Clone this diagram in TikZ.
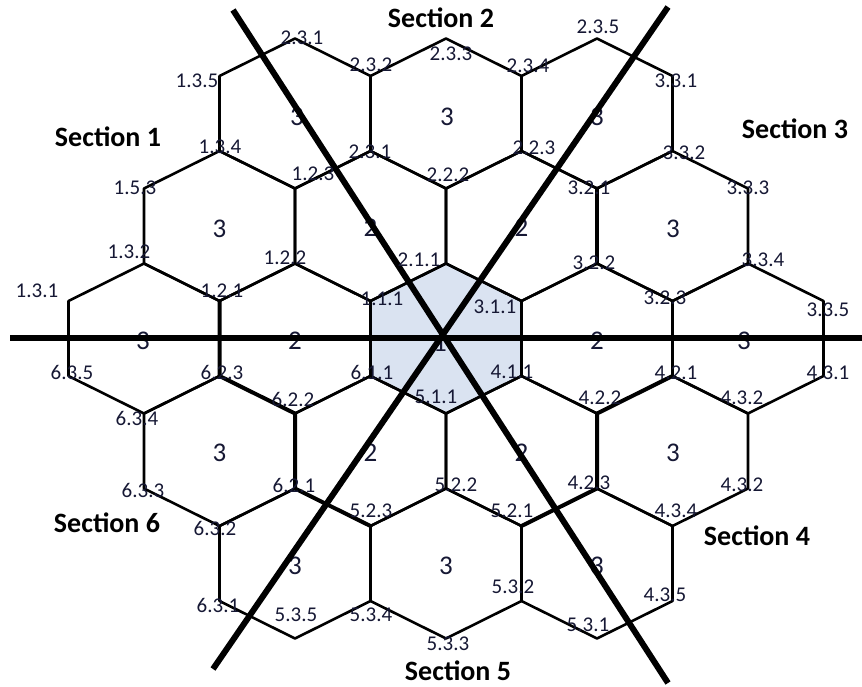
\documentclass[tikz,border=0pt]{standalone}
\usepackage{fontspec}
\setmainfont{Carlito}
\definecolor{labnavy}{RGB}{22,24,52}
\definecolor{centerfill}{RGB}{218,227,241}
\tikzset{
  hexline/.style={line width=2.6pt, line join=round, black},
  bordline/.style={line width=4pt, line cap=round, black},
  secline/.style={line width=6pt, black},
  vlab/.style={text=labnavy, inner sep=0pt, font=\fontsize{21}{23}\selectfont},
  hlab/.style={text=labnavy, inner sep=0pt, font=\fontsize{27}{29}\selectfont},
  seclab/.style={text=black, inner sep=0pt, font=\fontsize{28}{30}\selectfont\bfseries},
}
\newcommand{\hexpath}[2]{(#1,#2) ++(0,-75) -- ++(75.5,37.5) -- ++(0,75) -- ++(-75.5,37.5) -- ++(-75.5,-37.5) -- ++(0,-75) -- cycle}
\begin{document}
\begin{tikzpicture}[x=1pt,y=-1pt]
\useasboundingbox (0,0) rectangle (862,687);
% centre hexagon
\fill[centerfill] \hexpath{446}{338.5};
% hexagons
\foreach \cx/\cy in {446/338.5,
  597/338.5, 295/338.5, 370.5/226, 521.5/226, 370.5/451, 521.5/451,
  748/338.5, 144/338.5, 295/113.5, 446/113.5, 597/113.5,
  219.5/226, 672.5/226, 219.5/451, 672.5/451,
  295/563.5, 446/563.5, 597/563.5}
  {\draw[hexline] \hexpath{\cx}{\cy};}
% thicker boundary edges
\coordinate (b622) at (295,413.5);
\coordinate (b623) at (219.5,376);
\coordinate (b121) at (219.5,301);
\coordinate (b321) at (597,188.5);
\coordinate (b322) at (597,263.5);
\coordinate (b421) at (672.5,376);
\coordinate (b422) at (597,413.5);
\coordinate (b423) at (597,488.5);
\coordinate (b521) at (521.5,526);
\coordinate (b523) at (370.5,526);
\coordinate (b621) at (295,488.5);
\draw[bordline] (b121) -- (b623) -- (b622) -- (b621) -- (b523);
\draw[bordline] (b321) -- (b322);
\draw[bordline] (b421) -- (b422) -- (b423) -- (b521);
% hexagon numbers
\node[hlab] (h0) at (440,343) {1};
\foreach \x/\y [count=\i] in {370.5/228, 521.5/228, 597/341, 295/341, 370.5/453, 521.5/453}
  {\node[hlab] (hr\i) at (\x,\y) {2};}
\foreach \x/\y [count=\i] in {297/117, 447/117, 597/117, 219.5/229, 673/229, 744/341,
  143/341, 219.5/453, 673/453, 295/566, 446/566, 597/566}
  {\node[hlab] (hs\i) at (\x,\y) {3};}
% section lines
\coordinate (hl) at (10,338);
\coordinate (hr) at (862,338);
\coordinate (at) at (233,10);
\coordinate (ab) at (668,683);
\coordinate (bt) at (668,7);
\coordinate (bb) at (213,669);
\draw[secline] (hl) -- (hr);
\draw[secline] (at) -- (ab);
\draw[secline] (bt) -- (bb);
% vertex labels
\foreach \t/\x/\y [count=\i] in {
  1.3.5/197/81, 2.3.1/302/38, 2.3.2/371/65, 2.3.3/451/54, 2.3.4/528/66,
  2.3.5/598/27, 3.3.1/676/81, 1.3.4/220/147, 2.3.1/370/152, 2.2.3/534/148,
  3.3.2/684/153, 1.5.3/135/188, 1.2.3/313/174, 2.2.2/448/175, 3.2.1/589/188,
  3.3.3/748/188, 1.3.2/129/252, 1.2.2/285/258, 2.1.1/419/260, 3.2.2/594/263,
  3.3.4/763/260, 1.3.1/37/291, 1.2.1/222/291, 1.1.1/382/299, 3.1.1/495/307,
  3.2.3/665/298, 3.3.5/828/310, 6.3.5/72/372, 6.2.3/222/372, 6.1.1/372/372,
  4.1.1/512/372, 4.2.1/676/373, 4.3.1/828/373, 6.2.2/293/399, 5.1.1/436/397,
  4.2.2/600/398, 4.3.2/742/398, 6.3.4/137/418, 6.3.3/143/490, 6.2.1/294/485,
  5.2.2/456/485, 4.2.3/589/483, 4.3.2/742/485, 5.2.3/371/511, 5.2.1/512/511,
  4.3.4/676/511, 6.3.2/215/528, 5.3.2/513/587, 4.3.5/665/595, 6.3.1/218/605,
  5.3.5/296/615, 5.3.4/371/615, 5.3.1/588/625, 5.3.3/448/644}
  {\node[vlab] (v\i) at (\x,\y) {\t};}
% section titles
\node[seclab] (s1) at (108,137) {Section 1};
\node[seclab] (s2) at (441,18) {Section 2};
\node[seclab] (s3) at (795,129) {Section 3};
\node[seclab] (s4) at (757,536) {Section 4};
\node[seclab] (s5) at (458,671) {Section 5};
\node[seclab] (s6) at (107,523) {Section 6};
\end{tikzpicture}
\end{document}
